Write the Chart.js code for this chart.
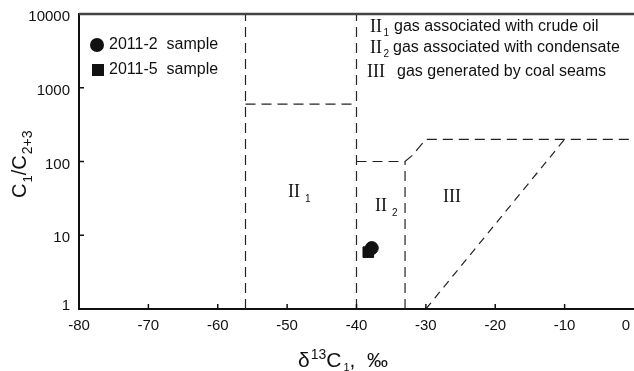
<!DOCTYPE html>
<html>
<head>
<meta charset="utf-8">
<script src="https://cdn.jsdelivr.net/npm/chart.js@4/dist/chart.umd.min.js"></script>
<style>
  body { margin: 0; background: #fff; }
  canvas { display: block; }
</style>
</head>
<body>
<canvas id="chart" width="634" height="371"></canvas>
<script>
// samples (delta13C1, C1/C2+3)
const sample2 = [{ x: -37.8, y: 6.7 }];
const sample5 = [{ x: -38.3, y: 5.9 }];

// field boundaries
const lineII1Left = [{ x: -56, y: 1 }, { x: -56, y: 10000 }];
const lineII1Top = [{ x: -56, y: 600 }, { x: -40, y: 600 }];
const lineII1Right = [{ x: -40, y: 1 }, { x: -40, y: 10000 }];
const lineII2Top = [{ x: -40, y: 100 }, { x: -33, y: 100 }, { x: -32, y: 120 }, { x: -30, y: 200 }, { x: 0, y: 200 }];
const lineII2Right = [{ x: -33, y: 1 }, { x: -33, y: 100 }];
const lineIII = [{ x: -30, y: 1 }, { x: -10, y: 200 }];

const xTicks = [-80, -70, -60, -50, -40, -30, -20, -10, 0];
const yTicks = [1, 10, 100, 1000, 10000];

const legendItems = ["2011-2  sample", "2011-5  sample"];
const fieldNotes = [
  ["II", "1", "gas associated with crude oil"],
  ["II", "2", "gas associated with condensate"],
  ["III", "", "gas generated by coal seams"],
];

const sans = "'Liberation Sans', Arial, sans-serif";
const serif = "'Liberation Serif', 'Times New Roman', serif";

const boundary = (data, dash) => ({
  type: "line",
  data: data,
  borderColor: "#222",
  borderWidth: 1.2,
  borderDash: dash,
  pointRadius: 0,
  fill: false,
  tension: 0,
});

const decor = {
  id: "decor",
  afterDraw(chart) {
    const ctx = chart.ctx;
    const xs = chart.scales.x;
    const ys = chart.scales.y;
    const a = chart.chartArea;
    ctx.save();

    // top frame line
    ctx.strokeStyle = "#444";
    ctx.lineWidth = 2.5;
    ctx.beginPath();
    ctx.moveTo(a.left, a.top);
    ctx.lineTo(a.right, a.top);
    ctx.stroke();

    // inward tick marks
    ctx.strokeStyle = "#111";
    ctx.lineWidth = 1.5;
    ctx.beginPath();
    xTicks.slice(1, -1).forEach(v => {
      const px = xs.getPixelForValue(v);
      ctx.moveTo(px, a.bottom);
      ctx.lineTo(px, a.bottom - 5);
    });
    yTicks.slice(1, -1).forEach(v => {
      const py = ys.getPixelForValue(v);
      ctx.moveTo(a.left, py);
      ctx.lineTo(a.left + 5, py);
    });
    ctx.stroke();

    // tick labels
    ctx.fillStyle = "#111";
    ctx.font = "15px " + sans;
    ctx.textAlign = "center";
    ctx.textBaseline = "middle";
    xTicks.forEach(v => {
      const px = Math.min(xs.getPixelForValue(v), 626);
      ctx.fillText(String(v), px, 326);
    });
    ctx.textAlign = "right";
    yTicks.forEach(v => {
      const py = ys.getPixelForValue(v);
      ctx.fillText(String(v), 70, Math.min(py + 3, 306));
    });

    // x title
    ctx.textAlign = "left";
    ctx.textBaseline = "alphabetic";
    let x = 298;
    ctx.font = "21px " + sans;
    ctx.fillText("δ", x, 367);
    x += ctx.measureText("δ").width + 1;
    ctx.font = "14px " + sans;
    ctx.fillText("13", x, 359);
    x += ctx.measureText("13").width;
    ctx.font = "21px " + sans;
    ctx.fillText("C", x, 367);
    x += ctx.measureText("C").width + 2;
    ctx.font = "11px " + sans;
    ctx.fillText("1", x, 371);
    x += ctx.measureText("1").width;
    ctx.font = "21px " + sans;
    ctx.fillText(",  ‰", x, 367);

    // y title
    ctx.save();
    ctx.translate(26, 198);
    ctx.rotate(-Math.PI / 2);
    x = 0;
    ctx.font = "20px " + sans;
    ctx.fillText("C", x, 0);
    x += ctx.measureText("C").width + 1;
    ctx.font = "13px " + sans;
    ctx.fillText("1", x, 6);
    x += ctx.measureText("1").width;
    ctx.font = "20px " + sans;
    ctx.fillText("/C", x, 0);
    x += ctx.measureText("/C").width + 1;
    ctx.font = "14px " + sans;
    ctx.fillText("2+3", x, 6);
    ctx.restore();

    // legend
    ctx.fillStyle = "#111";
    ctx.beginPath();
    ctx.arc(97, 45, 7, 0, Math.PI * 2);
    ctx.fill();
    ctx.fillRect(92, 64, 12, 12);
    ctx.font = "16px " + sans;
    ctx.textBaseline = "middle";
    ctx.fillText(legendItems[0], 109, 45);
    ctx.fillText(legendItems[1], 109, 70);

    // field notes, top right
    const rows = [27, 48, 72];
    const romanX = [370, 370, 367];
    const textX = [394, 393, 397];
    fieldNotes.forEach((n, i) => {
      ctx.font = "18px " + serif;
      ctx.fillText(n[0], romanX[i], rows[i]);
      if (n[1]) {
        ctx.font = "10px " + sans;
        ctx.fillText(n[1], romanX[i] + ctx.measureText("II").width + 8, rows[i] + 6);
      }
      ctx.font = "16px " + sans;
      ctx.fillText(n[2], textX[i], rows[i]);
    });

    // field labels in the plot
    const fieldLabel = (roman, sub, lx, ly) => {
      ctx.font = "18px " + serif;
      ctx.fillText(roman, lx, ly);
      if (sub) {
        const w = ctx.measureText(roman).width;
        ctx.font = "10px " + sans;
        ctx.fillText(sub, lx + w + 5, ly + 7);
      }
    };
    fieldLabel("II", "1", 288, 192);
    fieldLabel("II", "2", 375, 206);
    fieldLabel("III", "", 443, 197);

    ctx.restore();
  }
};

new Chart(document.getElementById("chart").getContext("2d"), {
  type: "scatter",
  data: {
    datasets: [
      boundary(lineII1Left, [10, 6]),
      boundary(lineII1Top, [10, 6]),
      boundary(lineII1Right, [10, 6]),
      boundary(lineII2Top, [10, 6]),
      boundary(lineII2Right, [10, 6]),
      boundary(lineIII, [8, 6]),
      {
        label: legendItems[0],
        data: sample2,
        pointStyle: "circle",
        pointRadius: 6.5,
        backgroundColor: "#111",
        borderColor: "#111",
      },
      {
        label: legendItems[1],
        data: sample5,
        pointStyle: "rect",
        pointRadius: 7.5,
        backgroundColor: "#111",
        borderColor: "#111",
      },
    ]
  },
  options: {
    responsive: false,
    animation: false,
    devicePixelRatio: 1,
    layout: { autoPadding: false, padding: { top: 14, right: 0, left: 0, bottom: 0 } },
    plugins: {
      legend: { display: false },
      tooltip: { enabled: false },
    },
    scales: {
      x: {
        type: "linear",
        min: -80,
        max: 0,
        ticks: { display: false, stepSize: 10 },
        grid: { display: false },
        border: { display: true, color: "#111", width: 2 },
        afterFit: (s) => { s.height = 62; },
      },
      y: {
        type: "logarithmic",
        min: 1,
        max: 10000,
        ticks: { display: false },
        grid: { display: false },
        border: { display: true, color: "#111", width: 2 },
        afterFit: (s) => { s.width = 79; },
      }
    }
  },
  plugins: [decor],
});
</script>
</body>
</html>
